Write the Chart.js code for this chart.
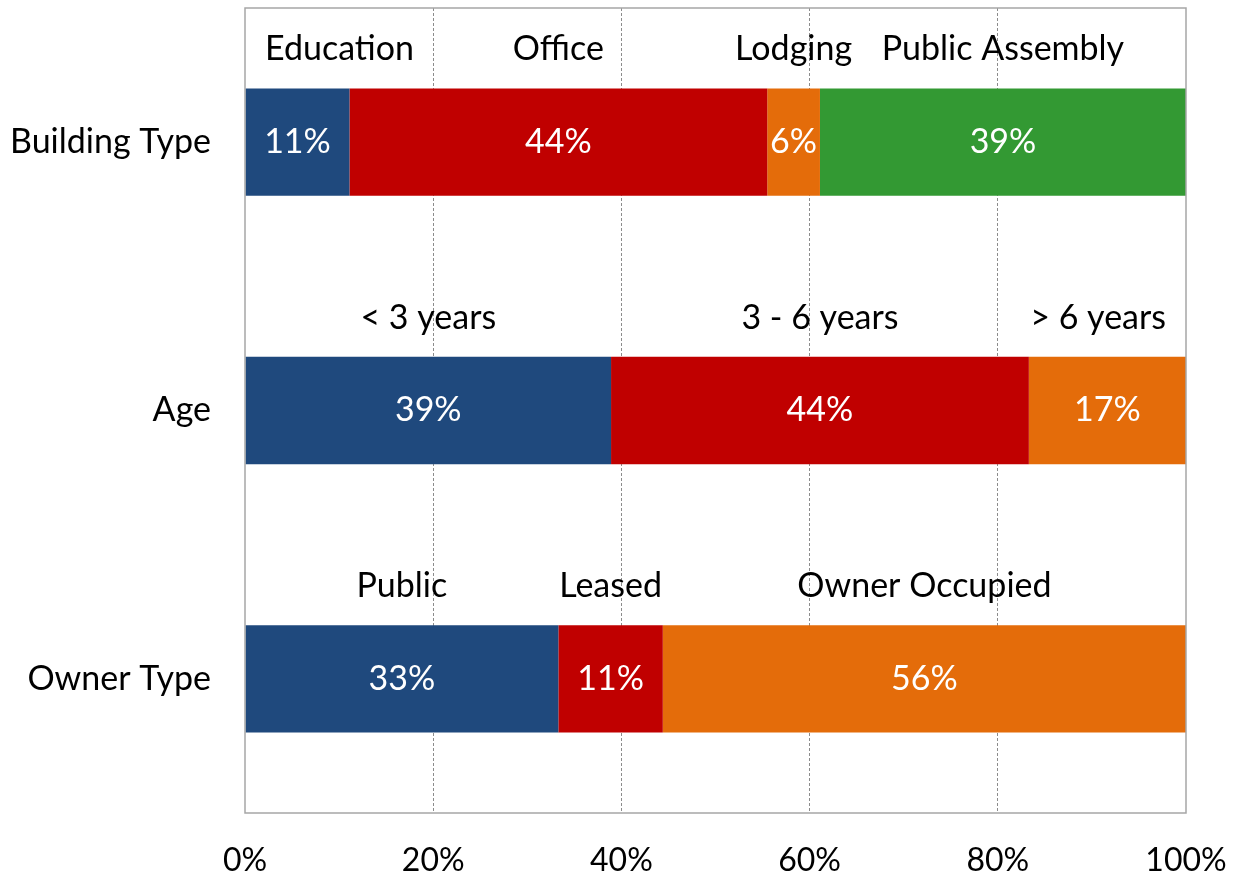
<!DOCTYPE html>
<html>
<head>
<meta charset="utf-8">
<script src="https://cdn.jsdelivr.net/npm/chart.js@4/dist/chart.umd.min.js"></script>
<style>
  html, body { margin: 0; padding: 0; background: #fff; }
  #wrap { width: 1239px; height: 876px; }
</style>
</head>
<body>
<div id="wrap"><canvas id="chart" width="1239" height="876"></canvas></div>
<script>
// --- dados ---
const categories = ['Building Type', 'Age', 'Owner Type'];
const segmentNames = [
  ['Education', 'Office', 'Lodging', 'Public Assembly'],
  ['< 3 years', '3 - 6 years', '> 6 years'],
  ['Public', 'Leased', 'Owner Occupied']
];
const segmentValues = [
  [11.1, 44.4, 5.6, 38.9],
  [38.9, 44.4, 16.7],
  [33.3, 11.1, 55.6]
];
const segmentColors = ['#1F497D', '#C00000', '#E46C0A', '#339933'];
const xTicks = [0, 20, 40, 60, 80, 100];

const FONT = 'Lato, "Open Sans", sans-serif';

// one dataset per segment position (blue, red, orange, green)
const datasets = segmentColors.map((color, i) => ({
  label: 'seg' + i,
  data: segmentValues.map(row => row[i] ?? null),
  names: segmentNames.map(row => row[i] ?? ''),
  backgroundColor: color,
  borderWidth: 0,
  barPercentage: 0.4,
  categoryPercentage: 1.0
}));

// --- rótulos sobre e dentro das barras ---
const labelPlugin = {
  id: 'segLabels',
  afterDatasetsDraw(chart) {
    const ctx = chart.ctx;
    const area = chart.chartArea;
    ctx.save();
    ctx.font = '34px ' + FONT;
    ctx.textAlign = 'center';
    ctx.textBaseline = 'middle';
    chart.data.datasets.forEach((ds, di) => {
      chart.getDatasetMeta(di).data.forEach((bar, i) => {
        const v = ds.data[i];
        if (v == null) return;
        const cx = (bar.x + bar.base) / 2;
        ctx.fillStyle = '#fff';
        ctx.fillText(Math.round(v) + '%', cx, bar.y);
        // name above the segment, kept inside the plot frame
        const half = ctx.measureText(ds.names[i]).width / 2;
        let nx = cx;
        if (nx - half < area.left + 20) nx = area.left + 20 + half;
        if (nx + half > area.right - 20) nx = area.right - 20 - half;
        ctx.fillStyle = '#000';
        ctx.fillText(ds.names[i], nx, bar.y - bar.height / 2 - 39);
      });
    });
    ctx.restore();
  }
};

// moldura da área do gráfico
const framePlugin = {
  id: 'frame',
  afterDraw(chart) {
    const { left, top, right, bottom } = chart.chartArea;
    const ctx = chart.ctx;
    ctx.save();
    ctx.strokeStyle = '#A6A6A6';
    ctx.lineWidth = 1.5;
    ctx.strokeRect(left, top, right - left, bottom - top);
    ctx.restore();
  }
};

new Chart(document.getElementById('chart'), {
  type: 'bar',
  data: { labels: categories, datasets },
  options: {
    indexAxis: 'y',
    responsive: false,
    animation: false,
    layout: { padding: { top: 8, right: 53, left: 0, bottom: 0 } },
    plugins: { legend: { display: false }, tooltip: { enabled: false } },
    scales: {
      x: {
        stacked: true,
        min: 0,
        max: 100,
        afterBuildTicks: scale => { scale.ticks = xTicks.map(v => ({ value: v })); },
        afterFit: scale => {
          scale.height = 63;
          scale.paddingLeft = 0;
          scale.paddingRight = 0;
        },
        grid: {
          drawTicks: false,
          color: c => (c.tick && (c.tick.value === 0 || c.tick.value === 100)) ? 'rgba(0,0,0,0)' : '#8C8C8C',
          lineWidth: 1
        },
        border: { display: false, dash: [3, 2] },
        ticks: {
          color: '#000',
          padding: 28,
          font: { family: FONT, size: 32 },
          callback: v => v + '%'
        }
      },
      y: {
        stacked: true,
        afterFit: scale => {
          scale.width = 245;
          scale.paddingTop = 0;
          scale.paddingBottom = 0;
        },
        grid: { display: false, drawTicks: false },
        border: { display: false },
        ticks: {
          color: '#000',
          padding: 34,
          font: { family: FONT, size: 34 }
        }
      }
    }
  },
  plugins: [labelPlugin, framePlugin]
});
</script>
</body>
</html>
